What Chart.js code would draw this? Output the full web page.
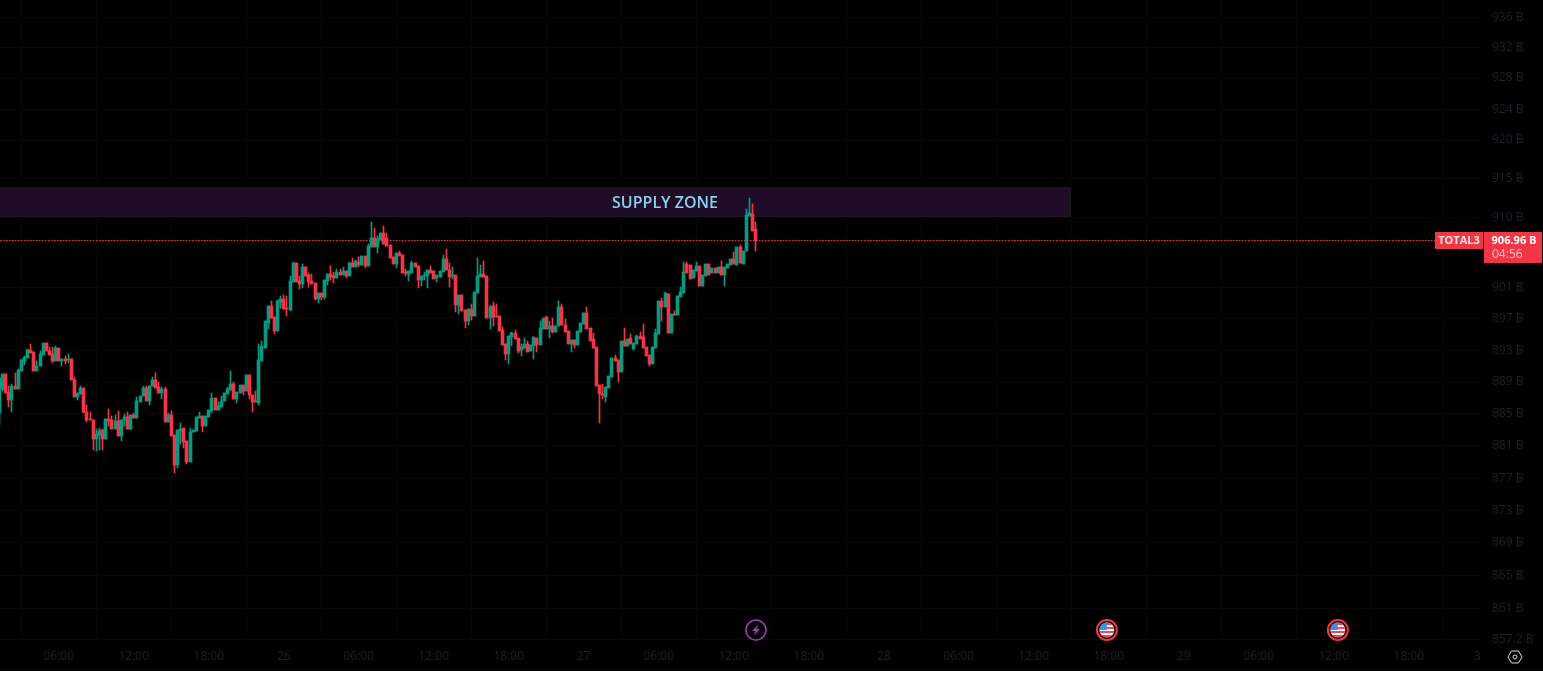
<!DOCTYPE html>
<html>
<head>
<meta charset="utf-8">
<title>TOTAL3</title>
<script src="https://cdn.jsdelivr.net/npm/chart.js@4"></script>
<style>
  html, body { margin: 0; padding: 0; background: #fff; overflow: hidden; }
  canvas { display: block; }
</style>
</head>
<body>
<canvas id="chart" width="1543" height="671"></canvas>
<script>
// * 15 minute candles, prices in billions
const opens = [
  885.18,888.19,890.11,887.85,886.85,888.6,888.23,890.4,891.74,892.11,
  893.11,892.86,890.4,891.03,892.49,893.95,892.99,892.61,891.74,893.37,
  891.74,891.99,891.82,891.99,889.36,887.23,887.6,888.35,885.35,884.47,
  884.34,881.96,882.47,883.09,881.96,884.47,884.34,883.22,884.22,882.34,
  884.26,884.72,883.22,884.97,884.6,886.6,887.35,888.35,886.72,888.52,
  889.36,888.48,887.73,888.23,884.1,884.97,882.47,878.71,882.97,883.34,
  881.71,879.08,882.84,882.97,884.6,884.85,883.59,884.72,885.47,887.1,
  885.6,885.97,886.72,887.6,888.1,888.86,886.98,887.73,888.73,887.98,
  889.98,887.48,886.72,886.47,891.75,893.32,896.55,898.71,897.31,895.53,
  899.22,899.61,898.46,898.2,901.77,904.19,901.9,901.51,903.68,902.66,
  901.9,901.64,899.61,900.37,899.86,901.9,902.79,902.53,902.24,903.04,
  902.66,903.17,902.53,904.19,903.68,904.32,903.93,905.08,903.81,906.23,
  907.37,906.23,907.12,908.01,907.37,906.48,904.95,904.06,905.46,905.21,
  903.04,902.79,902.92,904.19,903.81,902.02,902.53,902.53,903.3,903.17,
  902.28,902.41,903.04,904.7,903.3,902.53,902.66,898.84,900.11,898.2,
  896.8,898.33,897.44,900.37,902.41,902.79,902.53,897.19,898.71,897.44,
  897.44,895.66,893.88,892.6,894.77,895.28,894.64,893.07,893.33,893.84,
  892.95,893.58,894.6,893.71,895.74,897.26,895.74,896.12,895.36,896.12,
  898.54,896.25,895.49,893.84,894.34,893.71,895.36,896.38,897.77,895.87,
  894.47,893.46,888.63,887.61,887.23,888.25,889.65,892.06,891.8,890.28,
  894.22,893.58,894.6,893.2,893.84,894.85,894.73,893.46,892.44,891.3,
  893.33,895.11,899.3,898.54,900.19,895.23,897.65,897.52,899.8,900.31,
  904,903.87,902.22,903.11,903.74,901.2,902.47,904,902.85,903.49,
  902.85,903.61,902.6,903.49,903.87,904.63,903.87,906.15,904,905.65,
  910.22,910.47,908.44,
];
const highs = [
  889.57,890.11,890.11,888.6,888.81,890.19,890.69,891.99,892.36,893.24,
  893.87,892.86,891.74,892.9,893.95,893.95,893.53,893.45,893.62,893.37,
  891.99,892.36,892.61,891.99,889.69,887.69,888.6,888.35,886.22,885.26,
  884.34,883.22,883.3,883.22,884.47,885.72,884.85,884.97,885.47,884.34,
  885.01,885.35,884.97,885.18,887.18,887.35,888.52,888.6,888.6,889.65,
  890.19,889.11,888.44,888.48,885.22,885.47,882.47,883.09,883.97,883.34,
  881.71,883.34,883.09,884.72,885.35,884.85,884.85,885.6,887.69,887.1,
  886.52,887.35,887.73,888.48,890.48,889.11,887.85,888.73,888.73,889.98,
  889.98,887.48,887.98,893.87,894.26,896.8,898.71,899.35,897.31,899.48,
  899.99,900.11,899.99,902.53,904.32,904.19,902.53,904.02,903.68,902.92,
  902.79,901.64,900.37,900.37,902.02,902.79,903.81,903.04,903.42,903.42,
  903.68,903.17,904.32,904.83,904.57,904.95,905.08,905.08,906.61,909.41,
  908.64,907.63,908.01,908.9,908.01,906.48,904.95,905.46,905.72,905.21,
  903.42,903.17,904.44,904.19,903.81,902.53,903.04,903.3,903.81,903.17,
  902.66,903.17,905.21,905.97,904.19,903.68,902.66,900.11,900.11,898.2,
  898.33,898.97,900.5,904.83,903.93,904.44,902.53,898.84,899.14,898.97,
  897.44,896.04,893.88,894.89,895.4,895.66,894.64,893.84,894.6,894.22,
  893.71,894.73,894.6,896.76,897.14,897.39,896.76,897.14,896.12,899.3,
  898.92,897.01,895.49,894.34,894.34,895.49,896.5,897.77,898.54,895.87,
  895.23,893.46,888.63,888.76,888.38,889.77,892.06,892.44,891.8,894.22,
  895.87,894.47,895.11,893.96,894.98,895.36,896.38,893.46,892.44,893.46,
  895.74,899.3,899.68,900.44,900.19,897.65,898.03,899.93,901.07,904.25,
  904.25,903.87,903.23,904.25,903.74,902.6,904,904,903.49,903.49,
  903.61,904.38,903.61,904,904.63,905.52,906.15,906.41,905.73,911.11,
  912.5,911.74,909.46,
];
const lows = [
  883.72,887.89,887.69,885.89,885.26,888.23,888.23,890.4,891.23,892.11,
  892.74,890.4,890.4,891.03,892.49,892.9,892.49,891.44,891.74,891.74,
  891.03,891.36,891.44,889.27,887.14,886.85,887.6,885.18,884.01,884.3,
  880.59,880.38,880.59,880.59,881.96,883.59,883.22,883.22,882.34,881.71,
  883.59,883.22,883.09,884.6,884.6,886.6,887.35,886.72,886.22,888.52,
  888.35,887.73,886.98,884.1,884.1,882.34,877.71,878.33,881.34,880.84,
  878.83,879.08,882.84,882.97,884.6,882.84,883.59,884.72,885.22,885.6,
  885.6,885.97,886.72,887.6,888.1,886.98,886.47,887.73,887.48,887.98,
  886.98,885.35,886.6,886.22,891.75,893.32,895.79,897.19,895.15,895.53,
  898.46,898.33,897.44,898.08,901.77,901.77,900.88,901.01,902.53,901.13,
  901.51,899.48,899.1,899.48,899.61,901.39,902.02,901.64,902.24,902.66,
  902.66,902.28,902.53,903.68,903.68,903.68,903.93,903.55,903.81,906.23,
  906.23,905.46,907.12,906.61,906.35,904.83,904.06,903.55,905.08,902.92,
  902.53,901.9,902.92,903.68,901.01,901.26,902.02,901.01,902.92,902.15,
  901.77,902.41,903.04,903.3,901.13,902.15,897.95,897.7,898.08,895.91,
  896.29,896.93,897.44,900.37,902.41,902.41,897.19,895.79,896.17,897.31,
  895.53,893.75,891.84,891.33,893.62,894.51,892.73,892.31,893.33,892.82,
  892.95,891.93,892.82,893.71,895.74,895.74,894.6,895.23,895.36,896.12,
  896.25,895.36,893.84,892.82,893.33,893.71,895.36,896.38,895.74,894.22,
  893.33,888.5,883.93,886.98,886.6,888.25,889.65,891.68,889.01,890.28,
  893.58,893.58,893.84,893.07,893.84,894.47,893.33,892.35,891.04,891.3,
  893.33,895.11,896.76,898.54,895.23,895.23,897.52,897.52,899.8,900.31,
  902.85,902.09,902.22,903.11,901.2,901.2,902.47,902.6,902.85,902.85,
  902.85,902.6,901.2,903.49,903.87,904,903.87,904.12,904,905.65,
  910.22,908.19,905.65,
];
const closes = [
  889.57,890.11,887.69,886.85,888.6,888.23,890.53,891.82,892.15,893.11,
  892.74,890.4,891.11,892.61,893.95,892.9,892.49,891.74,893.37,891.74,
  891.99,891.74,891.99,889.27,887.23,887.69,888.35,885.26,884.34,884.3,
  881.96,882.59,882.97,881.96,884.47,884.22,883.22,884.22,882.34,884.34,
  884.68,883.22,884.97,884.6,886.72,887.35,888.35,886.72,888.6,889.36,
  888.35,887.73,888.23,884.1,884.97,882.34,878.71,883.09,883.22,881.59,
  879.08,882.84,883.09,884.72,884.85,883.59,884.85,885.6,887.1,885.6,
  886.1,886.72,887.73,888.23,888.86,886.98,887.85,888.73,887.98,889.98,
  887.43,886.6,886.6,891.86,893.62,896.8,898.71,897.19,895.53,899.35,
  899.61,898.33,898.33,901.9,904.19,901.77,901.51,903.68,902.53,901.77,
  901.51,899.61,900.37,899.86,902.02,902.79,902.41,902.28,903.04,902.66,
  903.17,902.53,904.19,903.68,904.44,903.93,905.08,903.81,906.35,907.37,
  906.23,907.24,908.01,906.61,906.35,904.83,904.06,905.46,905.08,902.92,
  902.92,903.17,904.19,903.68,902.02,902.53,902.66,903.3,902.92,902.15,
  902.66,903.17,904.7,903.3,902.41,902.66,898.84,900.11,898.08,896.8,
  898.33,897.44,900.5,902.53,902.79,902.41,897.19,898.59,897.31,897.31,
  895.53,893.75,892.6,894.89,895.28,894.51,892.98,893.46,893.84,892.82,
  893.71,894.73,893.71,895.87,897.14,895.74,896.12,895.36,896.12,898.54,
  896.25,895.36,893.84,894.34,893.71,895.49,896.5,897.77,895.74,894.22,
  893.33,888.5,887.49,887.49,888.38,889.77,892.06,891.68,890.28,894.22,
  893.58,894.47,893.84,893.96,894.85,894.47,893.33,892.35,891.3,893.46,
  895.23,899.3,898.54,900.31,895.23,897.65,897.52,899.93,900.44,902.98,
  902.85,902.09,903.23,903.74,901.2,902.6,904,902.6,903.49,902.85,
  903.61,902.6,903.61,904,904.63,904,906.15,904.12,905.73,910.35,
  910.56,908.19,906.96,
];

// * axes
const xTickSlots = [19, 43, 67, 91, 115, 139, 163, 187, 211, 235, 259, 283, 307, 331, 355, 379, 403, 427, 451, 473];
const xTickLabels = ["06:00", "12:00", "18:00", "26", "06:00", "12:00", "18:00", "27", "06:00", "12:00", "18:00", "28", "06:00", "12:00", "18:00", "29", "06:00", "12:00", "18:00", "3"];
const yTickValues = [936.1, 932.1, 928.1, 924, 920, 915, 910, 901.05, 897.05, 893.05, 889.05, 885.05, 881.05, 877.05, 873.05, 869.05, 865.05, 861.05, 857.3];
const yTickLabels = ["936 B", "932 B", "928 B", "924 B", "920 B", "915 B", "910 B", "901 B", "897 B", "893 B", "889 B", "885 B", "881 B", "877 B", "873 B", "869 B", "865 B", "861 B", "857.2 B"];

// * annotations
const lastPrice = 906.96;
const zoneTop = 913.91;
const zoneBottom = 910.05;
const zoneEndSlot = 342.9;
const eventSlots = [242.1, 354.4, 428.3];

const UP = "#089981";
const DOWN = "#f23645";
const FONT = '"Open Sans", sans-serif';

const slots = opens.map((_, i) => i);
const candleColors = opens.map((o, i) => (closes[i] >= o ? UP : DOWN));

function drawFlag(ctx, cx, cy) {
  ctx.save();
  ctx.beginPath();
  ctx.arc(cx, cy, 10, 0, Math.PI * 2);
  ctx.strokeStyle = DOWN;
  ctx.lineWidth = 2;
  ctx.stroke();
  ctx.beginPath();
  ctx.arc(cx, cy, 7.5, 0, Math.PI * 2);
  ctx.clip();
  ctx.fillStyle = "#f5f5f5";
  ctx.fillRect(cx - 8, cy - 8, 16, 16);
  ctx.fillStyle = "#ef4a5a";
  [-7, -3, 1, 5].forEach((dy) => ctx.fillRect(cx - 8, cy + dy, 16, 2));
  ctx.fillStyle = "#3d8fe8";
  ctx.fillRect(cx - 8, cy - 8, 8, 8);
  ctx.restore();
}

function drawBolt(ctx, cx, cy) {
  ctx.save();
  ctx.beginPath();
  ctx.arc(cx, cy, 10, 0, Math.PI * 2);
  ctx.strokeStyle = "#a13cb5";
  ctx.lineWidth = 1.5;
  ctx.stroke();
  ctx.fillStyle = "#a13cb5";
  ctx.beginPath();
  ctx.moveTo(cx + 2.5, cy - 6);
  ctx.lineTo(cx - 4, cy + 1);
  ctx.lineTo(cx - 0.5, cy + 1);
  ctx.lineTo(cx - 2.5, cy + 6);
  ctx.lineTo(cx + 4, cy - 1);
  ctx.lineTo(cx + 0.5, cy - 1);
  ctx.closePath();
  ctx.fill();
  ctx.restore();
}

function drawSettings(ctx, cx, cy) {
  ctx.save();
  ctx.strokeStyle = "#d8dbe3";
  ctx.lineWidth = 1;
  ctx.beginPath();
  [[-7, 0], [-3.5, -6], [3.5, -6], [7, 0], [3.5, 6], [-3.5, 6]].forEach(([dx, dy], i) => {
    if (i === 0) ctx.moveTo(cx + dx, cy + dy);
    else ctx.lineTo(cx + dx, cy + dy);
  });
  ctx.closePath();
  ctx.stroke();
  ctx.beginPath();
  ctx.arc(cx, cy, 2, 0, Math.PI * 2);
  ctx.stroke();
  ctx.restore();
}

// * background, zone and price line go under the candles
const underlay = {
  id: "underlay",
  beforeDraw(chart) {
    const { ctx, width, height } = chart;
    ctx.save();
    ctx.fillStyle = "#000";
    ctx.fillRect(0, 0, width, height);
    ctx.restore();
  },
  beforeDatasetsDraw(chart) {
    const { ctx, chartArea, scales } = chart;
    const top = Math.round(scales.y.getPixelForValue(zoneTop));
    const bottom = Math.round(scales.y.getPixelForValue(zoneBottom));
    const right = Math.round(scales.x.getPixelForValue(zoneEndSlot));
    const lineY = Math.round(scales.y.getPixelForValue(lastPrice)) - 0.5;
    ctx.save();
    ctx.fillStyle = "#200b29";
    ctx.fillRect(0, top, right, bottom - top);
    ctx.strokeStyle = "#141a16";
    ctx.lineWidth = 1;
    ctx.strokeRect(-1, top + 0.5, right + 0.5, bottom - top - 1);
    ctx.fillStyle = "#86d3ea";
    ctx.font = "600 16px " + FONT;
    ctx.textAlign = "center";
    ctx.textBaseline = "middle";
    ctx.fillText("SUPPLY ZONE", 665, (top + bottom) / 2 + 1.5);
    ctx.strokeStyle = DOWN;
    ctx.lineWidth = 1;
    ctx.setLineDash([1.5, 1.5]);
    ctx.beginPath();
    ctx.moveTo(chartArea.left, lineY);
    ctx.lineTo(1435, lineY);
    ctx.stroke();
    ctx.restore();

    // snap the bars to whole pixels, the way the candles look in the original
    chart.getSortedVisibleDatasetMetas().forEach((meta) => {
      meta.data.forEach((bar) => {
        bar.x = Math.floor(bar.x) + 0.5;
        const a = Math.round(bar.y);
        const b = Math.round(bar.base);
        bar.y = Math.min(a, b);
        bar.base = Math.max(b, a, bar.y + 1);
      });
    });
  },
  afterDraw(chart) {
    const { ctx, scales } = chart;
    ctx.save();
    ctx.fillStyle = DOWN;
    ctx.fillRect(1435, 232, 48, 17);
    ctx.fillRect(1484, 232, 58, 31);
    ctx.fillStyle = "#fce4e6";
    ctx.font = "bold 11px " + FONT;
    ctx.textBaseline = "middle";
    ctx.textAlign = "center";
    ctx.fillText("TOTAL3", 1459, 241);
    ctx.fillStyle = "#fff";
    ctx.fillText("906.96 B", 1514, 241);
    ctx.fillStyle = "#f9c3c9";
    ctx.font = "12px " + FONT;
    ctx.textAlign = "left";
    ctx.fillText("04:56", 1492, 255);
    ctx.restore();
    drawBolt(ctx, scales.x.getPixelForValue(eventSlots[0]), 630);
    drawFlag(ctx, scales.x.getPixelForValue(eventSlots[1]), 630);
    drawFlag(ctx, scales.x.getPixelForValue(eventSlots[2]), 630);
    drawSettings(ctx, 1515, 657);
  },
};

// the labels must not push the plot in from the edges
function noScalePadding(scale) {
  scale.paddingTop = 0;
  scale.paddingBottom = 0;
  scale.paddingLeft = 0;
  scale.paddingRight = 0;
}

const config = {
  type: "bar",
  data: {
    datasets: [
      {
        label: "Body",
        data: slots.map((i) => ({ x: i, y: [opens[i], closes[i]] })),
        backgroundColor: candleColors,
        borderWidth: 0,
        barThickness: 3,
      },
      {
        label: "Wick",
        data: slots.map((i) => ({ x: i, y: [lows[i], highs[i]] })),
        backgroundColor: candleColors,
        borderWidth: 0,
        barThickness: 1,
      },
    ],
  },
  plugins: [underlay],
  options: {
    responsive: false,
    animation: false,
    devicePixelRatio: 1,
    layout: { padding: 0 },
    plugins: {
      legend: { display: false },
      tooltip: { enabled: false },
    },
    datasets: { bar: { grouped: false } },
    scales: {
      x: {
        type: "linear",
        offset: false,
        min: 0.19,
        max: 474.43,
        bounds: "data",
        border: { display: false },
        grid: { color: "#070709", drawTicks: false },
        ticks: {
          color: "#1e222d",
          font: { family: FONT, size: 12 },
          padding: 4,
          autoSkip: false,
          maxRotation: 0,
          includeBounds: false,
          callback: (v, i) => xTickLabels[i],
        },
        afterBuildTicks: (scale) => {
          scale.ticks = xTickSlots.map((v) => ({ value: v }));
        },
        afterFit: (scale) => {
          scale.height = 26;
          noScalePadding(scale);
        },
      },
      y: {
        type: "logarithmic",
        position: "right",
        min: 856.6,
        max: 938.4,
        bounds: "data",
        border: { display: false },
        grid: { color: "#070709", drawTicks: false },
        ticks: {
          color: "#1e222d",
          font: { family: FONT, size: 12 },
          padding: 10,
          autoSkip: false,
          callback: (v, i) => yTickLabels[i],
        },
        afterBuildTicks: (scale) => {
          scale.ticks = yTickValues.map((v) => ({ value: v }));
        },
        afterFit: (scale) => {
          scale.width = 61;
          noScalePadding(scale);
        },
      },
    },
  },
};

window.addEventListener("DOMContentLoaded", () => {
  new Chart(document.getElementById("chart").getContext("2d"), config);
});
</script>
</body>
</html>
